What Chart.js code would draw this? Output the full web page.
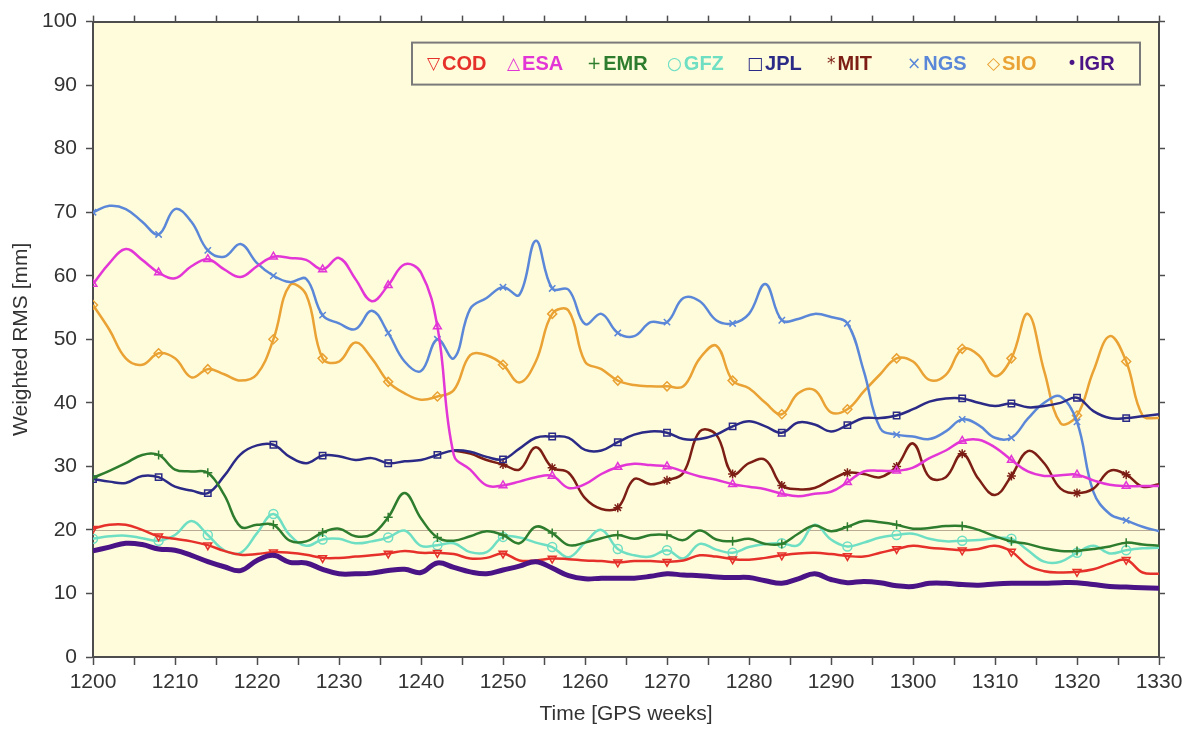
<!DOCTYPE html>
<html>
<head>
<meta charset="utf-8">
<title>Weighted RMS</title>
<script src="https://cdn.jsdelivr.net/npm/chart.js"></script>
<style>
  body { margin: 0; background: #fff; }
  #wrap { width: 1192px; height: 729px; }
</style>
</head>
<body>
<div id="wrap"><canvas id="rmsChart" width="1192" height="729"></canvas></div>
<script>
// GPS weeks (every 2nd week)
const weeks = [
  1200, 1202, 1204, 1206, 1208, 1210, 1212, 1214, 1216, 1218,
  1220, 1222, 1224, 1226, 1228, 1230, 1232, 1234, 1236, 1238,
  1240, 1242, 1244, 1246, 1248, 1250, 1252, 1254, 1256, 1258,
  1260, 1262, 1264, 1266, 1268, 1270, 1272, 1274, 1276, 1278,
  1280, 1282, 1284, 1286, 1288, 1290, 1292, 1294, 1296, 1298,
  1300, 1302, 1304, 1306, 1308, 1310, 1312, 1314, 1316, 1318,
  1320, 1322, 1324, 1326, 1328, 1330
];

const cod = [
  20.2, 20.8, 20.8, 20.0, 19.0, 18.6, 18.2, 17.6, 16.7, 16.1,
  16.2, 16.5, 16.4, 16.1, 15.6, 15.6, 15.8, 16.0, 16.3, 16.7,
  16.4, 16.4, 16.2, 15.5, 15.6, 16.3, 15.2, 15.2, 15.5, 15.4,
  15.2, 15.1, 14.9, 15.1, 15.1, 15.0, 15.2, 16.0, 15.8, 15.4,
  15.3, 15.6, 16.0, 16.3, 16.4, 16.2, 15.9, 15.8, 16.4, 17.0,
  17.5, 17.2, 17.0, 16.8, 17.0, 17.5, 16.6, 14.4, 13.5, 13.3,
  13.4, 13.8, 14.7, 15.3, 13.3, 13.1
];
const esa = [
  58.7, 62.0, 64.2, 62.5, 60.5, 59.6, 61.5, 62.6, 61.0, 59.8,
  61.5, 63.0, 62.8, 62.5, 61.0, 62.8, 59.5, 56.0, 58.5, 61.8,
  60.5, 52.0, 31.8, 29.5, 27.0, 27.0, 27.6, 28.3, 28.5, 26.6,
  27.2, 28.8, 29.9, 30.4, 30.2, 30.0, 29.2, 28.4, 27.9, 27.2,
  26.8, 26.4, 25.7, 25.3, 25.7, 26.0, 27.5, 29.2, 29.3, 29.3,
  29.8, 31.3, 32.5, 34.0, 34.2, 33.0, 31.0, 29.2, 28.5, 28.6,
  28.7, 27.8, 27.1, 26.9, 26.9, 26.9
];
const emr = [
  28.2, 29.3, 30.5, 31.8, 31.8, 29.5, 29.2, 29.0, 25.5, 20.5,
  20.8, 20.8, 18.3, 18.2, 19.6, 20.2, 19.0, 19.3, 22.0, 25.8,
  21.8, 18.8, 18.3, 19.0, 19.8, 19.2, 17.9, 20.5, 19.5, 17.6,
  18.0, 18.7, 19.2, 18.6, 19.2, 19.2, 18.4, 19.9, 18.5, 18.2,
  18.6, 17.8, 17.8, 19.4, 20.7, 19.8, 20.5, 21.4, 21.2, 20.8,
  20.2, 20.3, 20.6, 20.6, 20.0, 19.0, 18.2, 17.8, 17.1, 16.7,
  16.7, 17.0, 17.4, 18.0, 17.7, 17.5
];
const gfz = [
  18.6, 19.0, 19.1, 18.7, 18.3, 19.2, 21.4, 19.2, 16.8, 16.4,
  19.5, 22.5, 19.2, 17.5, 18.5, 18.6, 17.9, 18.2, 18.8, 19.9,
  17.5, 17.6, 17.9, 16.5, 16.5, 18.9, 18.8, 18.0, 17.3, 15.7,
  18.0, 20.0, 17.0, 16.0, 15.8, 16.8, 15.5, 17.8, 16.9, 16.4,
  17.3, 17.8, 17.9, 17.6, 20.8, 18.5, 17.4, 18.0, 18.8, 19.2,
  19.4, 18.6, 18.2, 18.3, 18.4, 18.7, 18.6, 16.8, 15.0, 15.0,
  16.4, 17.5, 16.3, 16.8, 17.1, 17.2
];
const jpl = [
  28.0, 27.6, 27.4, 28.5, 28.3, 26.8, 26.2, 25.8, 28.5, 31.9,
  33.3, 33.4, 31.5, 30.5, 31.7, 31.6, 31.0, 31.3, 30.5, 30.8,
  31.0, 31.8, 32.5, 32.3, 31.5, 31.1, 32.8, 34.5, 34.7, 34.5,
  32.6, 32.5, 33.8, 35.0, 35.5, 35.3, 34.3, 34.3, 35.0, 36.3,
  37.1, 36.3, 35.3, 36.9, 36.6, 35.5, 36.5, 37.6, 37.6, 38.0,
  39.0, 40.2, 40.7, 40.7, 40.0, 39.5, 39.9, 39.3, 39.5, 40.0,
  40.8, 38.7, 37.6, 37.6, 37.9, 38.2
];
const mit = [
  null, null, null, null, null, null, null, null, null, null,
  null, null, null, null, null, null, null, null, null, null,
  null, null, 32.5, 32.0, 31.0, 30.3, 29.5, 33.0, 29.8, 29.0,
  25.0, 23.3, 23.5, 28.0, 27.2, 27.8, 29.0, 35.5, 35.0, 28.8,
  30.5, 31.0, 27.0, 26.4, 26.6, 27.9, 29.0, 28.8, 28.3, 30.0,
  33.6, 28.3, 28.3, 32.0, 28.0, 25.5, 28.5, 32.4, 30.5, 26.5,
  25.8, 26.5, 29.3, 28.7, 26.8, 27.2
];
const ngs = [
  70.0, 71.0, 70.5, 68.5, 66.5, 70.5, 68.5, 64.0, 63.0, 65.0,
  62.0, 60.0, 59.0, 59.5, 53.8, 52.5, 51.6, 54.5, 51.0, 46.5,
  45.0, 50.0, 47.0, 54.8, 56.5, 58.2, 57.0, 65.5, 58.0, 57.8,
  52.4, 54.0, 51.0, 50.5, 52.7, 52.7, 56.5, 56.0, 53.0, 52.5,
  54.0, 58.7, 53.0, 53.2, 54.0, 53.5, 52.5, 45.0, 36.0, 35.0,
  34.7, 34.3, 35.5, 37.4, 36.5, 34.5, 34.5, 37.5, 40.0, 41.0,
  37.0, 26.0, 22.5, 21.5, 20.5, 19.8
];
const sio = [
  55.4, 51.5, 47.0, 46.0, 47.8, 47.0, 44.0, 45.3, 44.5, 43.5,
  44.5, 50.0, 58.5, 57.0, 47.0, 46.5, 49.5, 47.0, 43.3, 41.5,
  40.5, 41.0, 42.0, 47.5, 47.5, 46.0, 43.2, 46.5, 54.0, 54.5,
  46.5, 45.3, 43.5, 42.8, 42.6, 42.6, 42.6, 47.0, 49.0, 43.5,
  42.3, 40.0, 38.2, 41.5, 42.0, 38.5, 39.0, 41.8, 44.5, 47.0,
  46.5, 43.6, 44.4, 48.5, 47.5, 44.2, 47.0, 54.0, 45.0, 36.8,
  38.0, 45.0, 50.5, 46.5, 38.0, 37.6
];
const igr = [
  16.7, 17.3, 17.9, 17.7, 17.0, 16.8, 16.0, 15.0, 14.2, 13.6,
  15.2, 16.0, 14.9, 14.8, 13.8, 13.1, 13.1, 13.2, 13.6, 13.8,
  13.3, 14.8, 14.1, 13.4, 13.1, 13.7, 14.3, 15.0, 14.0, 12.8,
  12.3, 12.4, 12.4, 12.4, 12.7, 13.1, 12.9, 12.8, 12.6, 12.5,
  12.5, 12.0, 11.6, 12.3, 13.1, 12.2, 11.7, 11.9, 11.7, 11.2,
  11.1, 11.6, 11.6, 11.4, 11.3, 11.5, 11.6, 11.6, 11.6, 11.7,
  11.7, 11.4, 11.1, 11.0, 10.9, 10.8
];

const centres = ['COD', 'ESA', 'EMR', 'GFZ', 'JPL', 'MIT', 'NGS', 'SIO', 'IGR'];
const refLevel = 20;

// one symbol roughly every 7 weeks, like the original plot
function isMarker(i) {
  if (i === 0) return true;
  return Math.floor((weeks[i] - 1200) / 7) !== Math.floor((weeks[i - 1] - 1200) / 7);
}

function series(label, values, color, style, extra) {
  return Object.assign({
    label: label,
    data: values.map((v, i) => ({ x: weeks[i], y: v })),
    borderColor: color,
    backgroundColor: color,
    borderWidth: 2.5,
    tension: 0.4,
    pointStyle: style,
    pointRadius: (c) => isMarker(c.dataIndex) ? 4.5 : 0,
    pointHoverRadius: 0,
    pointBorderColor: color,
    pointBackgroundColor: 'rgba(0,0,0,0)',
    pointBorderWidth: 1.5,
    legendSymbol: '',
    order: 5
  }, extra || {});
}

const datasets = [
  series(centres[0], cod, '#e6312b', 'triangle', { pointRotation: 180, legendSymbol: '\u25BD' }),
  series(centres[1], esa, '#e336d6', 'triangle', { legendSymbol: '\u25B3' }),
  series(centres[2], emr, '#2e7d2e', 'cross', { legendSymbol: '+' }),
  series(centres[3], gfz, '#6fdfc4', 'circle', { legendSymbol: '\u25CB' }),
  series(centres[4], jpl, '#2b2a86', 'rect', { legendSymbol: '\u25A1' }),
  series(centres[5], mit, '#7d1e14', 'star', { legendSymbol: '*' }),
  series(centres[6], ngs, '#5b87d8', 'crossRot', { legendSymbol: '\u00D7' }),
  series(centres[7], sio, '#e9a233', 'rectRot', { legendSymbol: '\u25C7' }),
  series(centres[8], igr, '#4a1486', 'circle', {
    borderWidth: 5, order: 0, legendSymbol: '\u2022',
    pointRadius: 0
  })
];

const plotBg = {
  id: 'plotBg',
  beforeDraw(chart) {
    const { ctx, chartArea: a } = chart;
    ctx.save();
    ctx.fillStyle = '#fffcdb';
    ctx.fillRect(a.left, a.top, a.width, a.height);
    ctx.restore();
  }
};

const refLine = {
  id: 'refLine',
  beforeDatasetsDraw(chart) {
    const { ctx, chartArea: a, scales } = chart;
    const y = Math.round(scales.y.getPixelForValue(refLevel)) + 0.5;
    ctx.save();
    ctx.strokeStyle = '#b9ab93';
    ctx.lineWidth = 1;
    ctx.beginPath();
    ctx.moveTo(a.left, y);
    ctx.lineTo(a.right, y);
    ctx.stroke();
    ctx.restore();
  }
};

// legend drawn as a framed box inside the plot, top right
const boxLegend = {
  id: 'boxLegend',
  afterDraw(chart) {
    const { ctx, chartArea: a } = chart;
    const col = 80, h = 42;
    const sets = chart.data.datasets;
    const w = col * sets.length + 8;
    const x0 = a.right - 19 - w, y0 = a.top + 21;
    ctx.save();
    ctx.fillStyle = '#fffcdb';
    ctx.fillRect(x0, y0, w, h);
    ctx.strokeStyle = '#7a7a7a';
    ctx.lineWidth = 2;
    ctx.strokeRect(x0, y0, w, h);
    ctx.textBaseline = 'middle';
    sets.forEach((ds, i) => {
      const x = x0 + 15 + i * col;
      const y = y0 + h / 2 + 1;
      ctx.fillStyle = ds.borderColor;
      ctx.font = '17px "DejaVu Sans", sans-serif';
      ctx.fillText(ds.legendSymbol, x, y);
      const sw = ctx.measureText(ds.legendSymbol).width;
      ctx.font = 'bold 20px "Liberation Sans", Arial, sans-serif';
      ctx.fillText(ds.label, x + sw + 2, y);
    });
    ctx.restore();
  }
};

const axisColor = '#4d4d4d';
const tickFont = { family: '"Liberation Sans", Arial, sans-serif', size: 21 };
const titleFont = { family: '"Liberation Sans", Arial, sans-serif', size: 21 };

new Chart(document.getElementById('rmsChart'), {
  type: 'line',
  data: { datasets: datasets },
  options: {
    responsive: false,
    animation: false,
    layout: { padding: 0 },
    plugins: {
      legend: { display: false },
      tooltip: { enabled: false }
    },
    scales: {
      x: {
        type: 'linear',
        position: 'bottom',
        min: 1200,
        max: 1330,
        ticks: {
          stepSize: 5,
          autoSkip: false,
          maxRotation: 0,
          padding: 5,
          color: '#333',
          font: tickFont,
          callback: (v) => (v % 10 === 0 ? String(v) : '')
        },
        grid: { drawOnChartArea: false, tickLength: 8, tickColor: axisColor, tickWidth: 1.5 },
        border: { color: axisColor, width: 2 },
        title: {
          display: true,
          text: 'Time [GPS weeks]',
          color: '#333',
          font: titleFont,
          padding: { top: 0, bottom: 2 }
        },
        afterFit: (s) => { s.height = 72; }
      },
      x2: {
        type: 'linear',
        position: 'top',
        min: 1200,
        max: 1330,
        ticks: { stepSize: 5, display: false },
        grid: { drawOnChartArea: false, tickLength: 6, tickColor: axisColor, tickWidth: 1.5 },
        border: { color: axisColor, width: 2 },
        afterFit: (s) => { s.height = 18; }
      },
      y: {
        type: 'linear',
        position: 'left',
        min: 0,
        max: 100,
        ticks: { stepSize: 10, padding: 9, color: '#333', font: tickFont },
        grid: { drawOnChartArea: false, tickLength: 7, tickColor: axisColor, tickWidth: 1.5 },
        border: { color: axisColor, width: 2 },
        title: {
          display: true,
          text: 'Weighted RMS [mm]',
          color: '#333',
          font: titleFont,
          padding: { top: 9, bottom: 0 }
        },
        afterFit: (s) => { s.width = 93; }
      },
      y2: {
        type: 'linear',
        position: 'right',
        min: 0,
        max: 100,
        ticks: { stepSize: 10, display: false },
        grid: { drawOnChartArea: false, tickLength: 6, tickColor: axisColor, tickWidth: 1.5 },
        border: { color: axisColor, width: 2 },
        afterFit: (s) => { s.width = 33; }
      }
    }
  },
  plugins: [plotBg, refLine, boxLegend]
});
</script>
</body>
</html>
